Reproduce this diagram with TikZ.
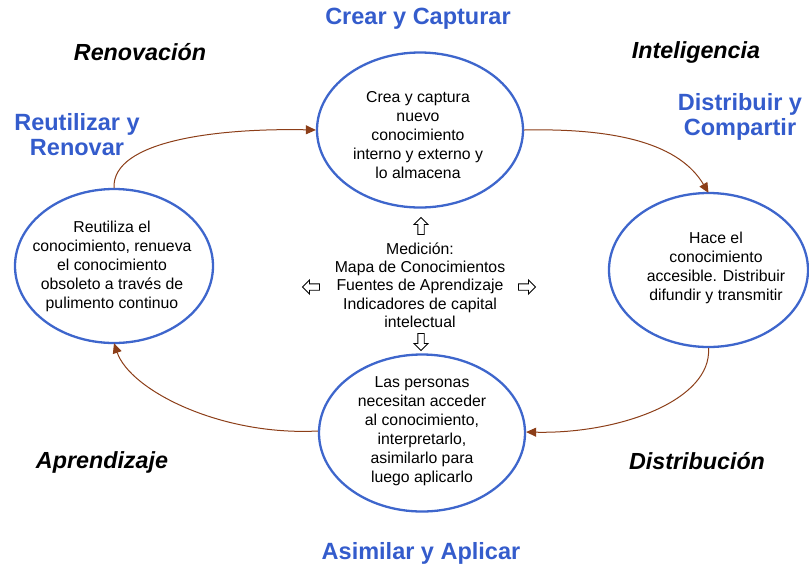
\documentclass[tikz,border=0pt]{standalone}
\usepackage{fontspec}
\setmainfont{Liberation Sans}
\usetikzlibrary{arrows.meta,shapes.geometric}

\definecolor{stageblue}{RGB}{52,92,204}
\definecolor{ringblue}{RGB}{62,102,204}
\definecolor{flowbrown}{RGB}{140,62,24}

\tikzset{
  phase/.style={ellipse, draw=ringblue, line width=2.3pt, inner sep=0pt},
  body/.style={align=center, font=\fontsize{15.8}{19}\selectfont, text=black, inner sep=0pt},
  stage/.style={align=center, font=\fontsize{23.5}{25}\selectfont\bfseries, text=stageblue, inner sep=0pt},
  corner/.style={font=\fontsize{23.3}{25}\selectfont\bfseries\itshape, text=black, inner sep=0pt},
  flow/.style={draw=flowbrown, line width=1pt, -{Triangle[length=10pt,width=9pt]}},
  hollowline/.style={draw=black, line width=0.9pt, fill=white, line join=miter}
}

% outlined block arrow: #1 = centre, #2 = direction angle
\newcommand\outlinearrow[2]{%
  \draw[hollowline, shift={(#1)}, rotate=#2]
    (-8.5,-3.2) -- (1.5,-3.2) -- (1.5,-7) -- (8.5,0) -- (1.5,7) -- (1.5,3.2) -- (-8.5,3.2) -- cycle;}

\begin{document}
\begin{tikzpicture}[x=1pt,y=-1pt]
\useasboundingbox (0,0) rectangle (809,566);

% the four phase ellipses
\node[phase, minimum width=206pt, minimum height=155pt] (top) at (420,130) {};
\node[phase, minimum width=199pt, minimum height=154pt] (right) at (708.5,270) {};
\node[phase, minimum width=198pt, minimum height=154pt] (left) at (114,266) {};
\node[phase, minimum width=206pt, minimum height=157pt] (bottom) at (422,433) {};

% texts inside the ellipses
\node[body] (topTxt) at (418,135) {Crea y captura\\nuevo\\conocimiento\\interno y externo y\\lo almacena};
\node[body] (rightTxt) at (716,268) {Hace el\\conocimiento\\accesible. Distribuir\\difundir y transmitir};
\node[body] (leftTxt) at (112,266) {Reutiliza el\\conocimiento, renueva\\el conocimiento\\obsoleto a trav\'es de\\pulimento continuo};
\node[body] (bottomTxt) at (422,431) {Las personas\\necesitan acceder\\al conocimiento,\\interpretarlo,\\asimilarlo para\\luego aplicarlo};

% measurement block in the middle
\node[body, font=\fontsize{15.8}{18.3}\selectfont] (center) at (420,285) {Medici\'on:\\Mapa de Conocimientos\\Fuentes de Aprendizaje\\Indicadores de capital\\intelectual};
\outlinearrow{421,226}{90}
\outlinearrow{421,342}{270}
\outlinearrow{311,287}{180}
\outlinearrow{527,287}{0}

% cycle connectors
\draw[flow] (top.east) .. controls (620,128) and (680,145) .. ([yshift=-1pt]right.north);
\draw[flow] (right.south) .. controls (712,400) and (620,434) .. ([yshift=1pt]bottom.east);
\draw[flow] ([yshift=2pt]bottom.west) .. controls (220,436) and (130,390) .. ([yshift=1pt]left.south);
\draw[flow] (left.north) .. controls (112,140) and (220,128) .. (top.west);

% stage titles
\node[stage] (sTop) at (418,19) {Crear y Capturar};
\node[stage] (sRight) at (740,117) {Distribuir y\\Compartir};
\node[stage] (sLeft) at (77,135) {Reutilizar y\\Renovar};
\node[stage] (sBottom) at (421,553) {Asimilar y Aplicar};

% corner labels
\node[corner] (cRen) at (140,52) {Renovaci\'on};
\node[corner] (cInt) at (696,52) {Inteligencia};
\node[corner] (cApr) at (102,462) {Aprendizaje};
\node[corner] (cDis) at (697,461) {Distribuci\'on};
\end{tikzpicture}
\end{document}
